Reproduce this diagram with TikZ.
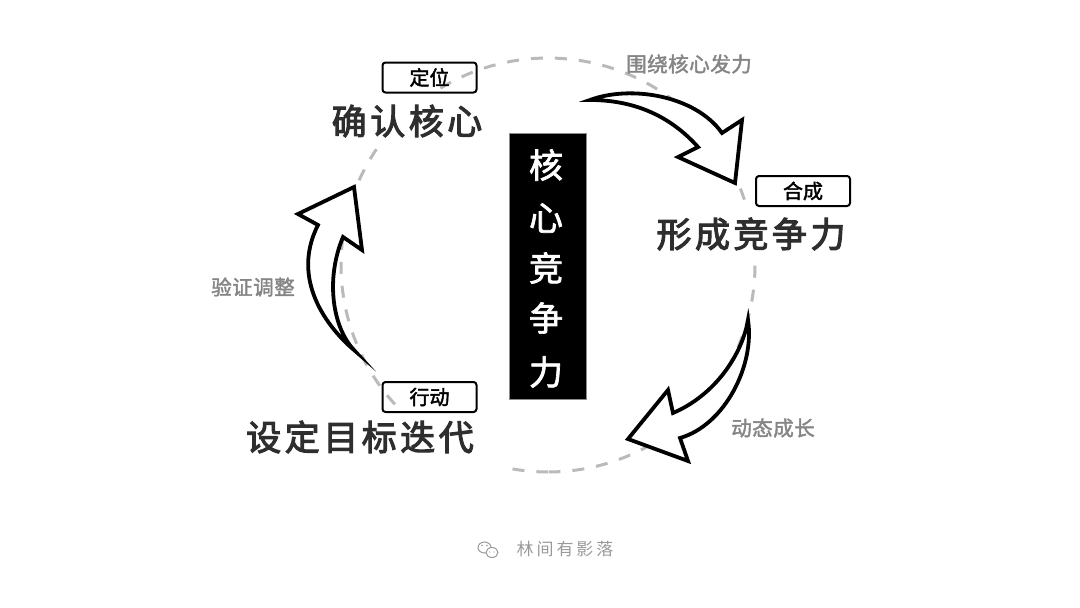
\documentclass[tikz,border=0pt]{standalone}
\usepackage{fontspec}
\setmainfont{Noto Sans CJK SC}
\usepackage{tikz}
\newfontfamily\cjk{Noto Sans CJK SC}
\newcommand{\ringarc}[2]{\draw[ringdash] plot[domain=#1:#2,samples=60] ({548+207*cos(\x)},{265-207*sin(\x)});}

\begin{document}
\begin{tikzpicture}[x=1pt,y=-1pt,
ringdash/.style={draw=black!27,line width=3pt,dash pattern=on 12pt off 12pt},
bigarrow/.style={draw=black,fill=white,line width=3.8pt,miter limit=20,line join=miter},
tagbox/.style={draw=black,line width=2pt,rounded corners=3pt,minimum width=94pt,minimum height=30pt,inner sep=0pt,font=\cjk\fontsize{20}{20}\selectfont\addfontfeature{FakeBold=2}},
titletext/.style={inner sep=0pt,text=black!82,font=\cjk\fontsize{35}{35}\selectfont\addfontfeature{LetterSpace=10,FakeBold=3}},
notetext/.style={inner sep=0pt,text=black!48,font=\cjk\fontsize{20.5}{20.5}\selectfont\addfontfeature{LetterSpace=2.5,FakeBold=2}},
coretext/.style={inner sep=0pt,text=white,font=\cjk\fontsize{34}{34}\selectfont\addfontfeature{FakeBold=2}}]
\useasboundingbox (0,0) rectangle (1080,608);
% dashed ring
\ringarc{121.3}{18.4}\ringarc{-0.2}{-89.7}\ringarc{-89.9}{-100}\ringarc{222.3}{146}
% three arrows
\draw[bigarrow] (590,100) .. controls (630,85) and (695,95) .. (722,133) -- (742,120) -- (735,183) -- (678,157) -- (698,147) .. controls (665,110) and (625,100) .. (590,100) -- cycle;
\draw[bigarrow] (748,320) .. controls (742,355) and (715,395) .. (673,413) -- (668,390) -- (628,439) -- (688,461) -- (680,438) .. controls (725,425) and (755,365) .. (748,320) -- cycle;
\draw[bigarrow] (354,350) .. controls (328,328) and (290,280) .. (318,225) -- (298,214) -- (354,187) -- (362,250) -- (343,237) .. controls (325,280) and (333,328) .. (354,350) -- cycle;
% centre bar
\node[fill=black,draw=black!45,line width=1pt,minimum width=77pt,minimum height=266pt,inner sep=0pt] (corebar) at (547.5,266.5){};
\foreach \ch/\yy [count=\i] in {核/165,心/218,竞/268,争/318,力/372}{\node[coretext] (core\i) at (546,\yy){\ch};}
% stages
\node[tagbox] (tagA) at (429.5,77.5){定位};
\node[tagbox] (tagB) at (803,191){合成};
\node[tagbox] (tagC) at (429.5,397){行动};
\node[titletext] (titleA) at (407,121){确认核心};
\node[titletext] (titleB) at (751,234){形成竞争力};
\node[titletext] (titleC) at (360,437){设定目标迭代};
% side notes
\node[notetext] (noteA) at (689,64){围绕核心发力};
\node[notetext] (noteB) at (773,428){动态成长};
\node[notetext] (noteC) at (253,287){验证调整};
% footer
\node[inner sep=0pt,text=black!40,font=\cjk\fontsize{17}{17}\selectfont\addfontfeature{LetterSpace=17}] (footname) at (565,549){林间有影落};
\draw[black!40,line width=1pt,fill=white] (484.5,547.5) ellipse (6.5pt and 5.5pt);
\draw[black!40,line width=1pt,fill=white] (492,552.5) ellipse (6pt and 5pt);
\fill[black!40] (482,545.5) circle (.8pt) (487,545.5) circle (.8pt) (489.5,552) circle (.7pt) (494,552) circle (.7pt);
\end{tikzpicture}
\end{document}
